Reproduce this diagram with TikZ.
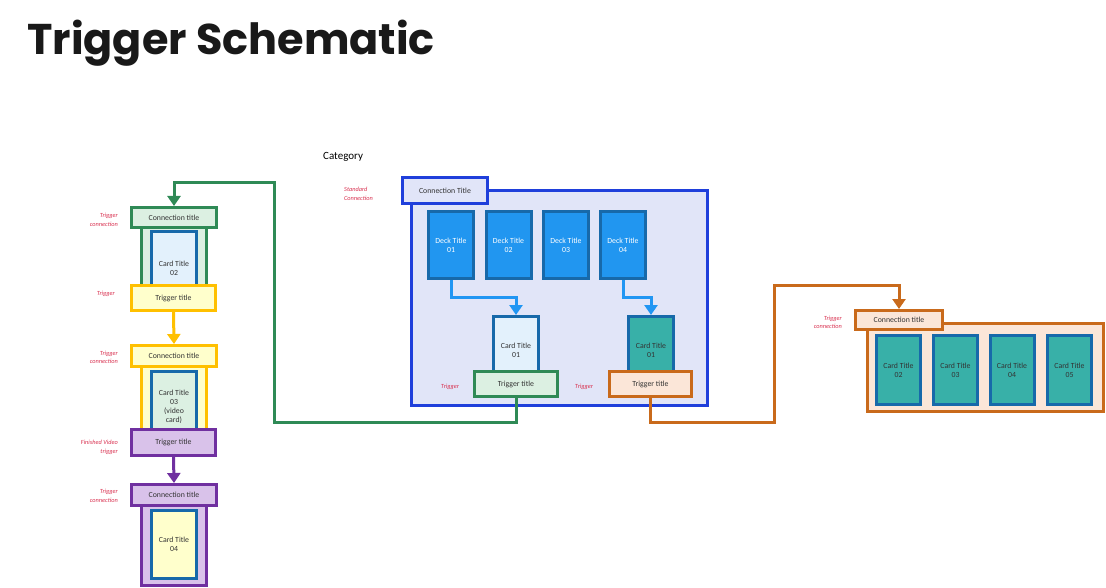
\documentclass[tikz,border=0pt]{standalone}
\usepackage{fontspec}
\setmainfont{Carlito}
\newfontfamily\titlefont{Poppins}
\usetikzlibrary{arrows.meta}
\definecolor{gr}{HTML}{2F8A56}
\definecolor{grl}{HTML}{DCF0E2}
\definecolor{ye}{HTML}{FFC000}
\definecolor{yel}{HTML}{FFFFCC}
\definecolor{pu}{HTML}{7030A0}
\definecolor{pul}{HTML}{D9C2EA}
\definecolor{bl}{HTML}{1F3FDB}
\definecolor{lav}{HTML}{E1E5F8}
\definecolor{cardb}{HTML}{1769AA}
\definecolor{deck}{HTML}{2196F0}
\definecolor{lbl1}{HTML}{E3F1FC}
\definecolor{teal}{HTML}{38B0A8}
\definecolor{orc}{HTML}{C96A1B}
\definecolor{orl}{HTML}{FBE6D8}
\definecolor{txt}{HTML}{333333}
\definecolor{lblc}{HTML}{D8304F}
\definecolor{arrb}{HTML}{2196F3}
\begin{document}
\begin{tikzpicture}[x=1pt,y=-1pt,
  box/.style={draw, line width=3pt, inner sep=0pt, align=center, text=txt, font=\fontsize{7.8}{9}\selectfont},
  cardbox/.style={box, draw=cardb},
  deckbox/.style={box, draw=cardb, fill=deck, text=white, minimum width=45, minimum height=67},
  col/.style={draw, line width=3pt, inner sep=0pt},
  lbl/.style={font=\fontsize{6.3}{8.5}\selectfont\itshape, text=lblc, inner sep=0pt},
  conn/.style={line width=3pt, -{Triangle[width=13pt,length=10pt]}}
]
\useasboundingbox (0,0) rectangle (1106,588);
\node[anchor=base west, inner sep=0pt, font=\titlefont\bfseries\fontsize{43}{50}\selectfont, text=black!90] (title) at (27,55) {Trigger Schematic};

% left column
\node[col, draw=gr, fill=grl, minimum width=65, minimum height=75] (gcol) at (174,262) {};
\node[cardbox, fill=lbl1, minimum width=45, minimum height=72] (c02) at (174,268) {Card Title\\02};
\node[box, draw=gr, fill=grl, minimum width=85, minimum height=20] (gconn) at (174,217.5) {Connection title};
\node[box, draw=ye, fill=yel, minimum width=84, minimum height=25] (ytrig) at (173.5,298) {Trigger title};

\node[col, draw=ye, fill=yel, minimum width=65, minimum height=75] (ycol) at (174,402) {};
\node[cardbox, fill=grl, minimum width=45, minimum height=71] (c03) at (174,406.5) {Card Title\\03\\(video\\card)};
\node[box, draw=ye, fill=yel, minimum width=85, minimum height=21] (yconn) at (174,356) {Connection title};
\node[box, draw=pu, fill=pul, minimum width=84, minimum height=26] (ptrig) at (173.5,442.5) {Trigger title};

\node[col, draw=pu, fill=pul, minimum width=65, minimum height=80] (pcol) at (174,545.5) {};
\node[cardbox, fill=yel, minimum width=45, minimum height=68] (c04) at (174,544.5) {Card Title\\04};
\node[box, draw=pu, fill=pul, minimum width=85, minimum height=21] (pconn) at (174,495) {Connection title};

\node[lbl, align=right, anchor=east] (l1) at (118,220) {Trigger\\connection};
\node[lbl, align=right, anchor=east] (l2) at (115,294) {Trigger};
\node[lbl, align=right, anchor=east] (l3) at (118,357.5) {Trigger\\connection};
\node[lbl, align=right, anchor=east] (l4) at (118,447.5) {Finished Video\\trigger};
\node[lbl, align=right, anchor=east] (l5) at (118,496) {Trigger\\connection};

% category
\node[anchor=west, inner sep=0pt, font=\fontsize{11}{13}\selectfont] (cat) at (323,157) {Category};
\node[lbl, align=left, anchor=west] (sc) at (344,194) {Standard\\Connection};
\node[box, draw=bl, fill=lav, minimum width=296, minimum height=215] (main) at (559.5,298) {};
\node[box, draw=bl, fill=lav, minimum width=85, minimum height=26] (tab) at (445,190.5) {Connection Title};
\node[deckbox] (d1) at (451,245) {Deck Title\\01};
\node[deckbox] (d2) at (508.5,245) {Deck Title\\02};
\node[deckbox] (d3) at (566,245) {Deck Title\\03};
\node[deckbox] (d4) at (623,245) {Deck Title\\04};
\node[cardbox, fill=lbl1, minimum width=45, minimum height=67] (c1l) at (516,350) {Card Title\\01};
\node[cardbox, fill=teal, minimum width=45, minimum height=67] (c1r) at (651,350) {Card Title\\01};
\node[box, draw=gr, fill=grl, minimum width=83, minimum height=25] (gtrig) at (516,384) {Trigger title};
\node[box, draw=orc, fill=orl, minimum width=82, minimum height=25] (otrig) at (650.5,384) {Trigger title};
\node[lbl, anchor=center] (t1) at (450,387) {Trigger};
\node[lbl, anchor=center] (t2) at (584,387) {Trigger};

% right group
\node[box, draw=orc, fill=orl, minimum width=236, minimum height=88] (omain) at (985.5,367.5) {};
\node[box, draw=orc, fill=orl, minimum width=87, minimum height=19] (oconn) at (899,320) {Connection title};
\node[cardbox, fill=teal, minimum width=44, minimum height=69] (r2) at (898.5,370) {Card Title\\02};
\node[cardbox, fill=teal, minimum width=44, minimum height=69] (r3) at (955.5,370) {Card Title\\03};
\node[cardbox, fill=teal, minimum width=44, minimum height=69] (r4) at (1012,370) {Card Title\\04};
\node[cardbox, fill=teal, minimum width=44, minimum height=69] (r5) at (1069.5,370) {Card Title\\05};
\node[lbl, align=right, anchor=east] (l6) at (842,322.5) {Trigger\\connection};

% connectors
\coordinate (g1) at (274,422);
\coordinate (g2) at (274,183);
\draw[conn, draw=gr] (gtrig.south) |- (g1) -- (g2) -| (gconn.north);
\coordinate (o1) at (774,422);
\coordinate (o2) at (774,285);
\draw[conn, draw=orc] (otrig.south) |- (o1) -- (o2) -| (oconn.north);
\draw[conn, draw=ye] (ytrig.south) -- (yconn.north);
\draw[conn, draw=pu] (ptrig.south) -- (pconn.north);
\draw[conn, draw=arrb] (d1.south) -- ++(0,17) -| (c1l.north);
\draw[conn, draw=arrb] (d4.south) -- ++(0,17) -| (c1r.north);
\end{tikzpicture}
\end{document}
